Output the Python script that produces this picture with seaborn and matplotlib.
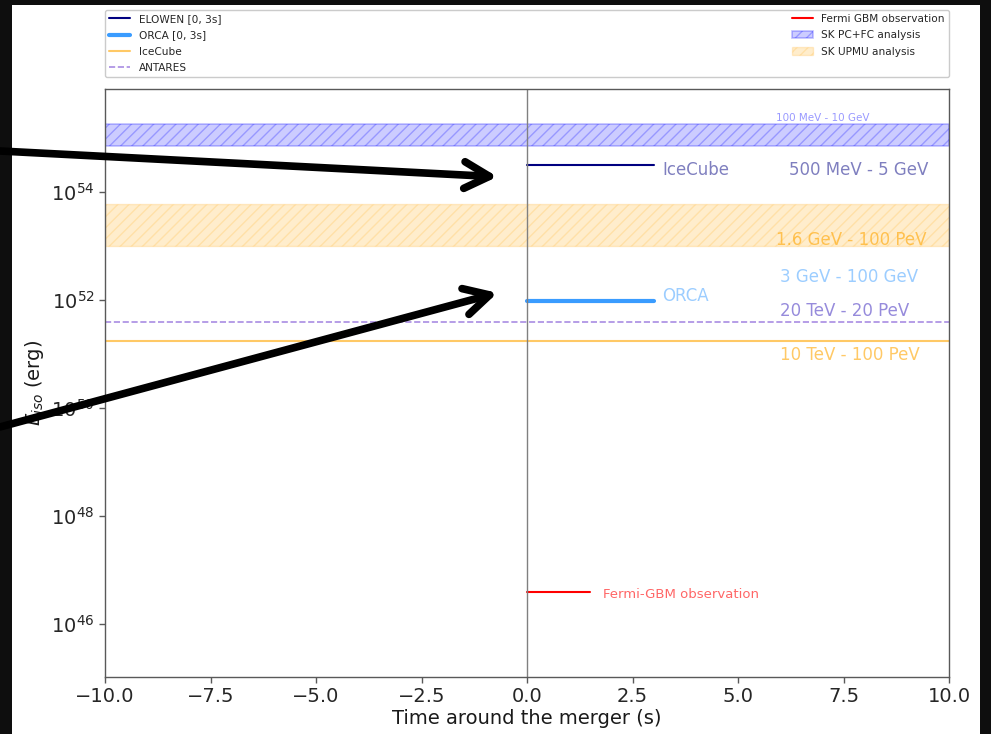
import matplotlib
matplotlib.use("Agg")
import matplotlib.pyplot as plt
import matplotlib.ticker as mticker
from matplotlib.patches import Rectangle
import numpy as np
import pandas as pd
import seaborn as sns

# Detector sensitivities (isotropic energy, erg)
elowen_t = [0.0, 3.0]
elowen_e = 3.1e54
orca_t = [0.0, 3.0]
orca_e = 9.5e51
fermi_t = [0.0, 1.5]
fermi_e = 4.0e46
icecube_e = 1.7e51
antares_e = 3.9e51
sk_pcfc_band = [7.0e54, 1.8e55]
sk_upmu_band = [1.0e53, 6.0e53]
x_range = [-10.0, 10.0]

sns.set_style("ticks")
plt.rcParams["font.family"] = ["DejaVu Sans"]

fig = plt.figure(figsize=(9.91, 7.34), dpi=100, facecolor="#0e0e0e")
fig.patches.append(Rectangle((12 / 991, 0), (980 - 12) / 991, 729 / 734,
                             transform=fig.transFigure, facecolor="white",
                             edgecolor="none", zorder=-10))
ax = fig.add_axes([105 / 991, 1 - 677 / 734, (949 - 105) / 991, (677 - 89) / 734])
ax.set_facecolor("white")

def seg(t, e):
    return pd.DataFrame({"t": t, "E": [e] * len(t)})

sns.lineplot(data=seg(elowen_t, elowen_e), x="t", y="E", color="navy", lw=1.5,
             label="ELOWEN [0, 3s]", ax=ax)
sns.lineplot(data=seg(orca_t, orca_e), x="t", y="E", color="#3a9cff", lw=3,
             label="ORCA [0, 3s]", ax=ax)
sns.lineplot(data=seg(x_range, icecube_e), x="t", y="E", color="orange", alpha=0.6,
             lw=1.5, label="IceCube", ax=ax)
sns.lineplot(data=seg(x_range, antares_e), x="t", y="E", color="mediumpurple",
             alpha=0.8, lw=1.2, ls="--", label="ANTARES", ax=ax)
sns.lineplot(data=seg(fermi_t, fermi_e), x="t", y="E", color="red", lw=1.5,
             label="Fermi GBM observation", ax=ax)

ax.fill_between(x_range, sk_pcfc_band[0], sk_pcfc_band[1],
                facecolor=(0, 0, 1, 0.2), edgecolor=(0, 0, 1, 0.25), lw=1.2,
                hatch="///", label="SK PC+FC analysis")
ax.fill_between(x_range, sk_upmu_band[0], sk_upmu_band[1],
                facecolor=(1, 0.65, 0, 0.2), edgecolor=(1, 0.65, 0, 0.18), lw=1.0,
                hatch="///", label="SK UPMU analysis")

ax.axvline(0, color="grey", lw=1)

ax.set_yscale("log")
ax.set_xlim(-10, 10)
ax.set_ylim(1.05e45, 8e55)
ax.yaxis.set_major_locator(mticker.FixedLocator([1e46, 1e48, 1e50, 1e52, 1e54]))
ax.yaxis.set_major_formatter(mticker.LogFormatterSciNotation())
ax.yaxis.set_minor_locator(mticker.NullLocator())
ax.set_xticks(np.arange(-10, 10.1, 2.5))
ax.tick_params(labelsize=14, colors="0.15", length=4, width=1, color="0.35")
for s in ax.spines.values():
    s.set_color("0.35")
    s.set_linewidth(1.0)

ax.set_xlabel("Time around the merger (s)", fontsize=14, color="0.1", labelpad=2)
ax.set_ylabel("$E_{iso}$ (erg)", fontsize=14, color="0.1", labelpad=4)

# energy-range annotations
ax.text(5.9, 2.3e55, "100 MeV - 10 GeV", color="blue", alpha=0.4, fontsize=7.5, va="center")
ax.text(3.2, 2.5e54, "IceCube", color="navy", alpha=0.5, fontsize=12, va="center")
ax.text(6.2, 2.5e54, "500 MeV - 5 GeV", color="navy", alpha=0.5, fontsize=12, va="center")
ax.text(5.9, 1.3e53, "1.6 GeV - 100 PeV", color="orange", alpha=0.6, fontsize=12, va="center")
ax.text(6.0, 2.6e52, "3 GeV - 100 GeV", color="#3a9cff", alpha=0.5, fontsize=12, va="center")
ax.text(3.2, 1.2e52, "ORCA", color="#3a9cff", alpha=0.5, fontsize=12, va="center")
ax.text(6.0, 6.3e51, "20 TeV - 20 PeV", color="slateblue", alpha=0.7, fontsize=12, va="center")
ax.text(6.0, 9.4e50, "10 TeV - 100 PeV", color="orange", alpha=0.6, fontsize=12, va="center")
ax.text(1.8, 3.6e46, "Fermi-GBM observation", color="red", alpha=0.6, fontsize=9.5, va="center")

handles, labels = ax.get_legend_handles_labels()
order = ["ELOWEN [0, 3s]", "ORCA [0, 3s]", "IceCube", "ANTARES",
         "Fermi GBM observation", "SK PC+FC analysis", "SK UPMU analysis"]
hmap = dict(zip(labels, handles))
ax.legend([hmap[k] for k in order], order, bbox_to_anchor=(0.0, 1.02, 1.0, 0.102),
          loc="lower left", ncol=2, mode="expand", borderaxespad=0.0,
          fontsize=7.6, frameon=True, edgecolor="0.75", labelspacing=0.6)

# pointer arrows
arrow_kw = dict(arrowstyle="->,head_length=0.6,head_width=0.32", lw=5.5, color="black",
                mutation_scale=30, shrinkA=0, shrinkB=0, capstyle="round",
                joinstyle="round")
ax.annotate("", xy=(-0.7, 1.9e54), xytext=(0.0, 583 / 734),
            textcoords="figure fraction", arrowprops=arrow_kw, annotation_clip=False)
ax.annotate("", xy=(-0.7, 1.35e52), xytext=(0.0, 307 / 734),
            textcoords="figure fraction", arrowprops=arrow_kw, annotation_clip=False)

fig.savefig("out.png", dpi=100, facecolor=fig.get_facecolor())
